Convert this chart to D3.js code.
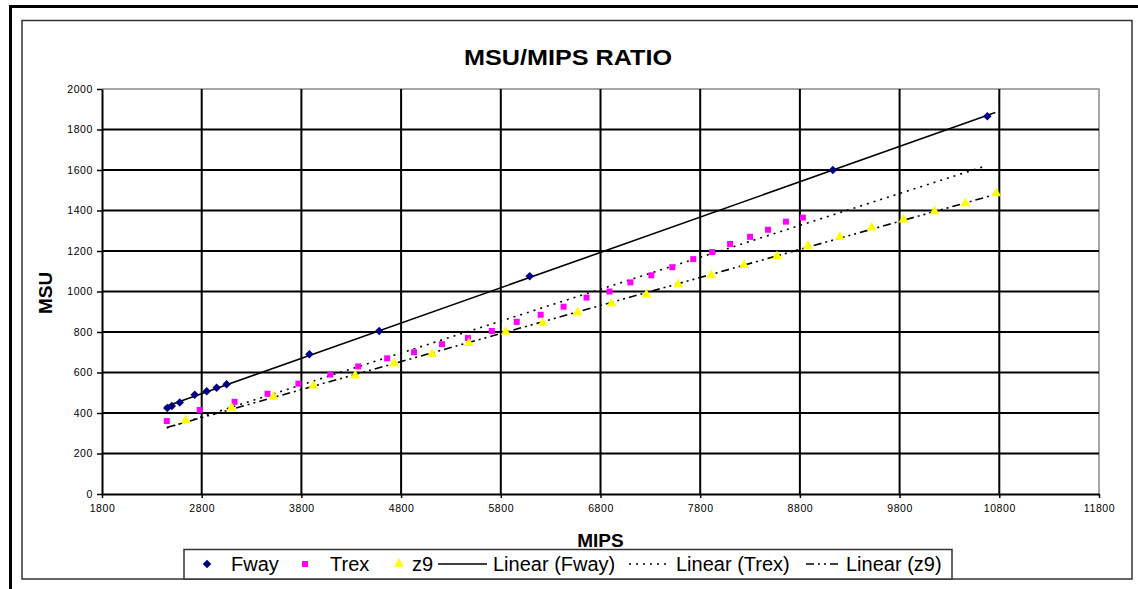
<!DOCTYPE html>
<html>
<head>
<meta charset="utf-8">
<script src="https://cdn.jsdelivr.net/npm/d3@7"></script>
<style>
body { margin: 0; background: #fff; }
text { font-family: Arial, "Liberation Sans", sans-serif; }
</style>
</head>
<body>
<svg id="chart" width="1138" height="589"></svg>
<script>
// MSU / MIPS ratio - scatter with linear trendlines

var fwayMips = [2455, 2500, 2580, 2730, 2850, 2950, 3050, 3880, 4580, 6090, 9130, 10680]
var fwayMsu  = [425, 435, 452, 490, 507, 525, 542, 690, 805, 1075, 1600, 1865]

var trexMips = [2450, 2780, 3130, 3460, 3770, 4090, 4370, 4660, 4930, 5210, 5470, 5710, 5960, 6200,
                6430, 6660, 6890, 7100, 7310, 7520, 7730, 7920, 8100, 8300, 8480, 8660, 8830]
var trexMsu  = [360, 415, 455, 495, 545, 590, 630, 670, 700, 740, 770, 805, 850, 885,
                925, 970, 1000, 1045, 1080, 1120, 1160, 1195, 1235, 1270, 1305, 1345, 1365]

var z9Mips = [2640, 3100, 3520, 3920, 4340, 4730, 5110, 5480, 5850, 6220, 6570, 6910, 7260, 7580,
              7910, 8240, 8570, 8880, 9200, 9520, 9840, 10150, 10460, 10770]
var z9Msu  = [365, 425, 480, 535, 585, 645, 690, 745, 800, 845, 895, 940, 985, 1035,
              1080, 1130, 1175, 1225, 1270, 1315, 1355, 1395, 1435, 1485]

// trendline x ranges (Excel forecast extents)
var trendFrom = [2430, 2450, 2450]
var trendTo   = [10760, 10640, 10770]

var xTicks = [1800, 2800, 3800, 4800, 5800, 6800, 7800, 8800, 9800, 10800, 11800]
var yTicks = [0, 200, 400, 600, 800, 1000, 1200, 1400, 1600, 1800, 2000]

var seriesNames = ['Fway', 'Trex', 'z9']
var trendNames = ['Linear (Fway)', 'Linear (Trex)', 'Linear (z9)']

var plotL = 102, plotR = 1099, plotT = 89, plotB = 494

var svg = d3.select('#chart')

var x = d3.scaleLinear().domain([1800, 11800]).range([plotL, plotR])
var y = d3.scaleLinear().domain([0, 2000]).range([plotB, plotT])

// frames
svg.append('line').attr('x1', 9).attr('y1', 6.5).attr('x2', 1138).attr('y2', 6.5)
   .style('stroke', '#000').style('stroke-width', 3)
svg.append('line').attr('x1', 10.5).attr('y1', 5).attr('x2', 10.5).attr('y2', 589)
   .style('stroke', '#000').style('stroke-width', 3)
svg.append('rect').attr('x', 22).attr('y', 20.5).attr('width', 1110).attr('height', 558.5)
   .style('fill', 'none').style('stroke', '#333').style('stroke-width', 1.5)

// plot border top / right
svg.append('path')
   .attr('d', 'M' + plotL + ',' + plotT + 'H' + plotR + 'V' + plotB)
   .style('fill', 'none').style('stroke', '#8a8a8a').style('stroke-width', 1.5)

// gridlines
svg.selectAll('line.hgrid').data(yTicks.slice(1, -1))
  .enter().append('line')
    .classed('hgrid', true)
    .attr('x1', plotL).attr('x2', plotR)
    .attr('y1', function(d){ return y(d) }).attr('y2', function(d){ return y(d) })
    .style('stroke', '#000').style('stroke-width', 2)

svg.selectAll('line.vgrid').data(xTicks.slice(1, -1))
  .enter().append('line')
    .classed('vgrid', true)
    .attr('y1', plotT).attr('y2', plotB)
    .attr('x1', function(d){ return x(d) }).attr('x2', function(d){ return x(d) })
    .style('stroke', '#000').style('stroke-width', 2)

// axes
svg.append('g')
  .attr('transform', 'translate(' + plotL + ',0)')
  .call(d3.axisLeft(y).tickValues(yTicks).tickFormat(d3.format('d')).tickSize(5).tickPadding(4).tickSizeOuter(0))
svg.append('g')
  .attr('transform', 'translate(0,' + plotB + ')')
  .call(d3.axisBottom(x).tickValues(xTicks).tickFormat(d3.format('d')).tickSize(4).tickPadding(7).tickSizeOuter(0))

svg.selectAll('.domain').style('stroke', '#000').style('stroke-width', 2)
svg.selectAll('.tick line').style('stroke', '#000').style('stroke-width', 1.5)
svg.selectAll('.tick text')
   .style('font-size', '10.5px').style('letter-spacing', '0.6px').style('fill', '#000')

// trendlines (least squares)
function fit(xs, ys) {
  var mx = d3.mean(xs), my = d3.mean(ys)
  var sxy = d3.sum(xs, function(v, i){ return (v - mx) * (ys[i] - my) })
  var sxx = d3.sum(xs, function(v){ return (v - mx) * (v - mx) })
  var b = sxy / sxx
  return { b: b, a: my - b * mx }
}

var allX = [fwayMips, trexMips, z9Mips]
var allY = [fwayMsu, trexMsu, z9Msu]
var dashes = [null, '2,5', '8,4,2,4,2,4']

allX.forEach(function(xs, k) {
  var f = fit(xs, allY[k])
  var ends = [trendFrom[k], trendTo[k]]
  svg.append('path')
     .datum(ends)
     .attr('d', d3.line()
        .x(function(d){ return x(d) })
        .y(function(d){ return y(f.a + f.b * d) }))
     .style('fill', 'none')
     .style('stroke', '#000')
     .style('stroke-width', 1.6)
     .style('stroke-dasharray', dashes[k])
})

// markers
var symbols = [d3.symbolDiamond2, d3.symbolSquare, d3.symbolTriangle]
var sizes = [46, 36, 42]
var fills = ['#000080', '#ff00ff', '#ffff00']

allX.forEach(function(xs, k) {
  svg.selectAll('path.m' + k).data(xs)
    .enter().append('path')
      .classed('m' + k, true)
      .attr('d', d3.symbol().type(symbols[k]).size(sizes[k]))
      .attr('transform', function(d, i){
        return 'translate(' + x(d) + ',' + y(allY[k][i]) + ')'
      })
      .style('fill', fills[k])
})

// titles
svg.append('text').text('MSU/MIPS RATIO')
   .attr('x', 568).attr('y', 65)
   .attr('text-anchor', 'middle')
   .attr('textLength', 208).attr('lengthAdjust', 'spacingAndGlyphs')
   .style('font-weight', 'bold').style('font-size', '22px')

svg.append('text').text('MSU')
   .attr('transform', 'translate(52,293) rotate(-90)')
   .attr('text-anchor', 'middle')
   .style('font-weight', 'bold').style('font-size', '19px')

svg.append('text').text('MIPS')
   .attr('x', (plotL + plotR) / 2).attr('y', 547)
   .attr('text-anchor', 'middle')
   .style('font-weight', 'bold').style('font-size', '19px')

// legend
svg.append('rect')
   .attr('x', 184).attr('y', 549.5).attr('width', 768).attr('height', 29.5)
   .style('fill', '#fff').style('stroke', '#333').style('stroke-width', 1.5)

var legY = 564
var markX = [207, 305, 399]
var labelX = [231, 330, 412]
seriesNames.forEach(function(name, k) {
  svg.append('path')
     .attr('d', d3.symbol().type(symbols[k]).size(sizes[k])())
     .attr('transform', 'translate(' + markX[k] + ',' + legY + ')')
     .style('fill', fills[k])
  svg.append('text').text(name)
     .attr('x', labelX[k]).attr('y', legY + 7)
     .style('font-size', '20px')
})

var sampleX = [[438, 487], [629, 670], [806, 840]]
var trendLabelX = [493, 676, 846]
trendNames.forEach(function(name, k) {
  svg.append('line')
     .attr('x1', sampleX[k][0]).attr('x2', sampleX[k][1])
     .attr('y1', legY).attr('y2', legY)
     .style('stroke', '#000').style('stroke-width', 1.6)
     .style('stroke-dasharray', dashes[k])
  svg.append('text').text(name)
     .attr('x', trendLabelX[k]).attr('y', legY + 7)
     .style('font-size', '20px')
})
</script>
</body>
</html>
